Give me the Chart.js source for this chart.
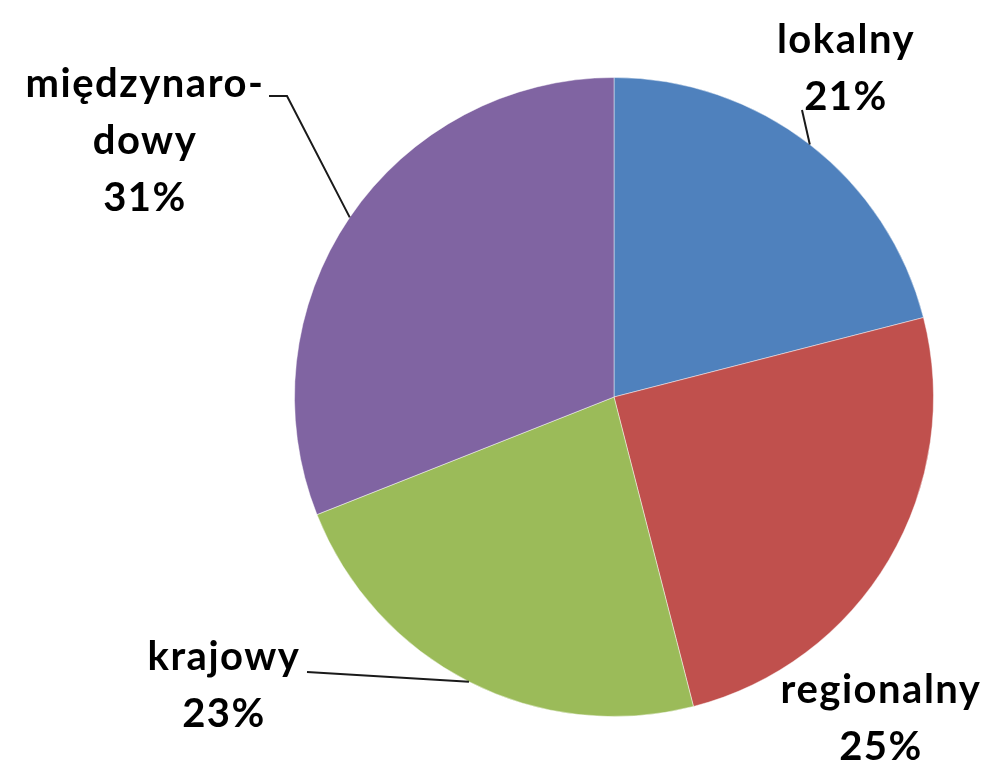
<!DOCTYPE html>
<html>
<head>
<meta charset="utf-8">
<script src="https://cdn.jsdelivr.net/npm/chart.js@4.4.1/dist/chart.umd.min.js"></script>
<style>
  html, body { margin: 0; padding: 0; background: #fff; }
  #wrap { width: 992px; height: 761px; }
</style>
</head>
<body>
<div id="wrap"><canvas id="myChart" width="992" height="761"></canvas></div>
<script>
// data
var categories = ['lokalny', 'regionalny', 'krajowy', 'międzynarodowy'];
var values = [21, 25, 23, 31];
var labelLines = [['lokalny'], ['regionalny'], ['krajowy'], ['międzynaro-', 'dowy']];
var colors = ['#4F81BD', '#C0504D', '#9BBB59', '#8064A2'];

// label placement: text centre x, first baseline y, leader line start (null = none)
var labelPos = [
    { x: 846, y: 53, line: [[802, 110]] },
    { x: 881, y: 703, line: null },
    { x: 224, y: 670, line: [[307, 672]] },
    { x: 145, y: 97, line: [[269, 96], [287, 96]] }
];
var lineGap = 57;

var pieLabels = {
    id: 'pieLabels',
    afterDatasetsDraw: function (chart) {
        var ctx = chart.ctx;
        var meta = chart.getDatasetMeta(0);
        var total = values.reduce(function (a, b) { return a + b; }, 0);
        ctx.save();
        meta.data.forEach(function (arc, i) {
            var p = labelPos[i];
            var props = arc.getProps(['x', 'y', 'startAngle', 'endAngle', 'outerRadius'], true);
            var mid = (props.startAngle + props.endAngle) / 2;
            if (p.line) {
                ctx.strokeStyle = '#1a1a1a';
                ctx.lineWidth = 2;
                ctx.beginPath();
                p.line.forEach(function (pt, k) {
                    if (k === 0) ctx.moveTo(pt[0], pt[1]); else ctx.lineTo(pt[0], pt[1]);
                });
                ctx.lineTo(props.x + Math.cos(mid) * props.outerRadius, props.y + Math.sin(mid) * props.outerRadius);
                ctx.stroke();
            }
            ctx.fillStyle = '#000';
            ctx.font = 'bold 40px Lato';
            ctx.letterSpacing = '1.5px';
            ctx.textAlign = 'center';
            ctx.textBaseline = 'alphabetic';
            var lines = labelLines[i].concat([Math.round(values[i] / total * 100) + '%']);
            lines.forEach(function (t, k) {
                ctx.fillText(t, p.x, p.y + k * lineGap);
            });
        });
        ctx.restore();
    }
};

var chartBlock = document.getElementById('myChart');
var myChart = new Chart(chartBlock, {
    type: 'pie',
    data: {
        labels: categories,
        datasets: [{
            data: values,
            backgroundColor: colors,
            borderColor: 'rgba(255,255,255,0.45)',
            borderWidth: 1
        }]
    },
    options: {
        responsive: false,
        animation: false,
        layout: {
            padding: { left: 294, right: 58, top: 77, bottom: 44 }
        },
        plugins: {
            legend: { display: false },
            tooltip: { enabled: false }
        }
    },
    plugins: [pieLabels]
});
</script>
</body>
</html>
